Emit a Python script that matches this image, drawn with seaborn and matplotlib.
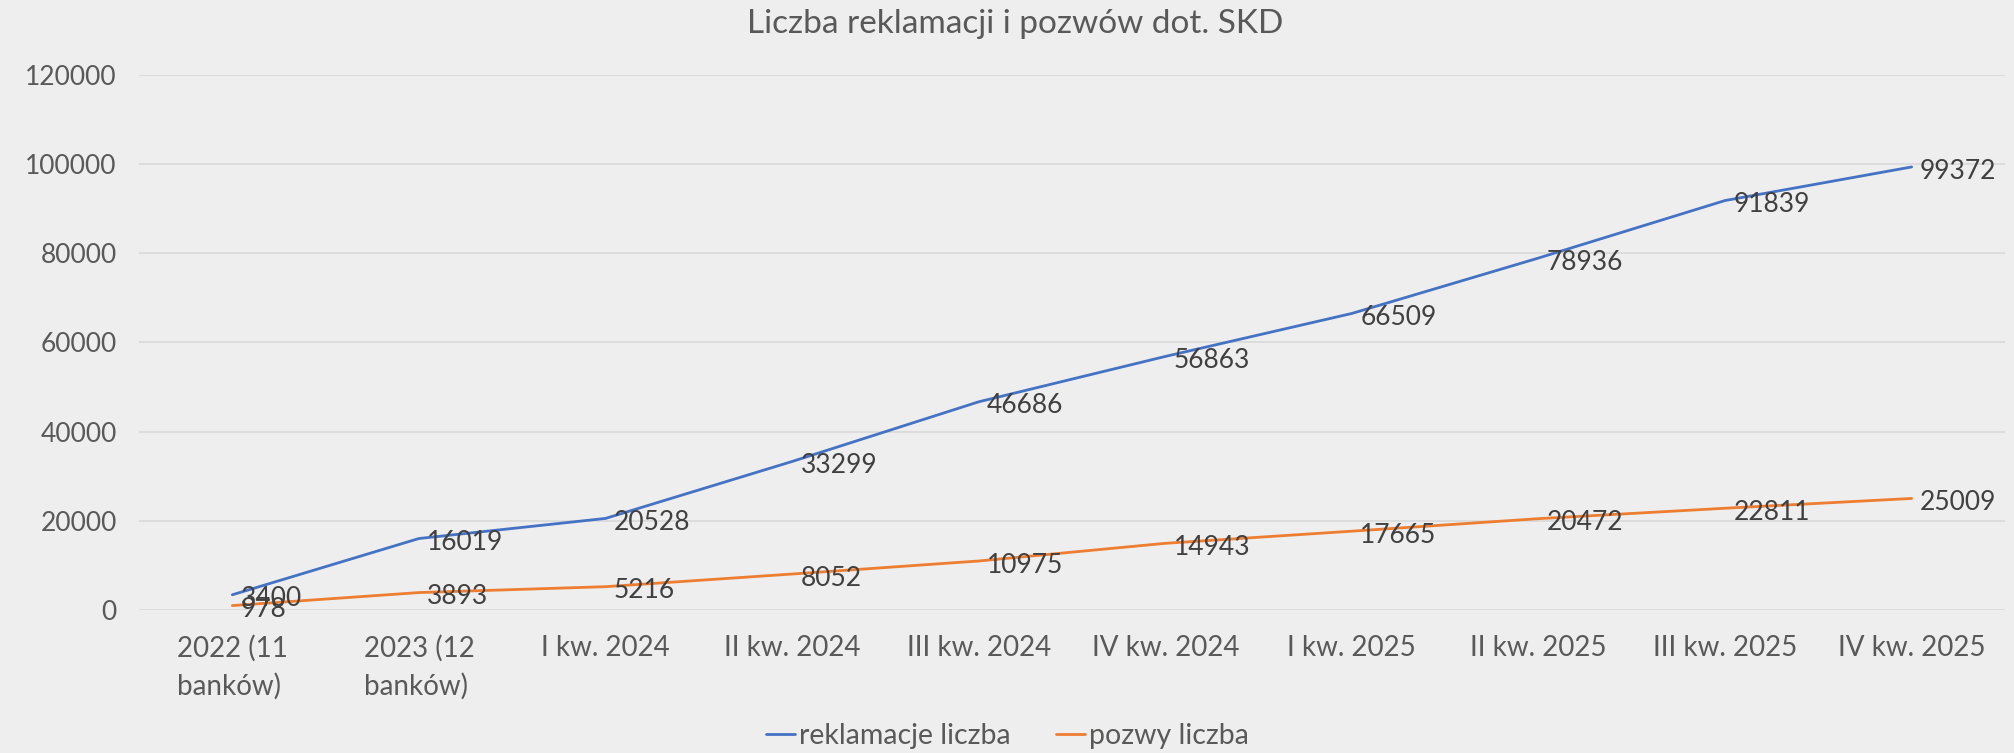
import pandas as pd
import matplotlib.pyplot as plt
import seaborn as sns

# Data
categories = ["2022 (11\nbanków)", "2023 (12\nbanków)", "I kw. 2024", "II kw. 2024", "III kw. 2024",
              "IV kw. 2024", "I kw. 2025", "II kw. 2025", "III kw. 2025", "IV kw. 2025"]
reklamacje = [3400, 16019, 20528, 33299, 46686, 56863, 66509, 78936, 91839, 99372]
pozwy = [978, 3893, 5216, 8052, 10975, 14943, 17665, 20472, 22811, 25009]
series_names = ["reklamacje liczba", "pozwy liczba"]
colors = ["#4472C4", "#ED7D31"]

df = pd.DataFrame({
    "kategoria": categories * 2,
    "wartosc": reklamacje + pozwy,
    "seria": [series_names[0]] * len(categories) + [series_names[1]] * len(categories),
})

bg = "#EEEEEE"
sns.set_theme(style="white")
plt.rcParams["font.family"] = ["Lato", "DejaVu Sans"]

fig = plt.figure(figsize=(20.15, 7.53), dpi=100, facecolor=bg)
ax = fig.add_axes([0.069, 0.190, 0.926, 0.7104])
ax.set_facecolor(bg)

sns.lineplot(data=df, x="kategoria", y="wartosc", hue="seria", palette=colors,
             sort=False, linewidth=2.0, ax=ax, legend=False)

# data labels to the right of each point
for vals in (reklamacje, pozwy):
    for cat, v in zip(categories, vals):
        ax.annotate(str(v), (cat, v), xytext=(6, -3), textcoords="offset points",
                    ha="left", va="center", fontsize=19, color="#404040")

ax.set_xlim(-0.5, len(categories) - 0.5)
ax.set_ylim(0, 120000)
ax.set_yticks(range(0, 120001, 20000))
ax.yaxis.grid(True, color="#D9D9D9", linewidth=1.2)
ax.set_axisbelow(True)
for s in ax.spines.values():
    s.set_visible(False)
ax.tick_params(axis="both", length=0, labelcolor="#595959")
ax.tick_params(axis="x", pad=18, labelsize=20)
ax.tick_params(axis="y", pad=16, labelsize=19)
for lbl in ax.get_xticklabels():
    lbl.set_multialignment("left")
    lbl.set_linespacing(1.5)
ax.set_xlabel("")
ax.set_ylabel("")

fig.text(0.504, 0.968, "Liczba reklamacji i pozwów dot. SKD", ha="center", va="center",
         fontsize=24, color="#595959")

handles = [plt.Line2D([], [], color=c, linewidth=2.0) for c in colors]
fig.legend(handles, series_names, loc="center", bbox_to_anchor=(0.5, 0.023), ncol=2,
           frameon=False, fontsize=20.5, labelcolor="#595959", handlelength=1.0,
           handletextpad=0.15, columnspacing=1.6)

fig.savefig("out.png", dpi=100, facecolor=bg)
